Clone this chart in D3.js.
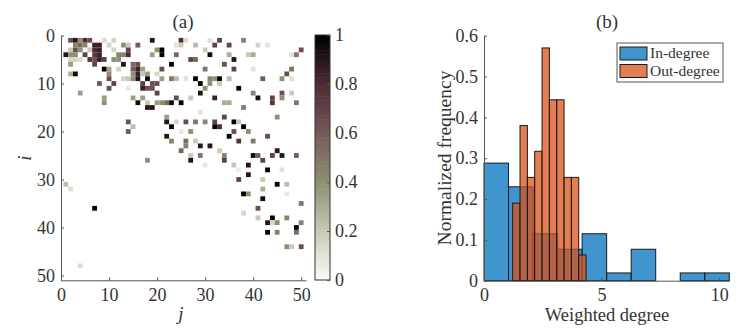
<!DOCTYPE html>
<html>
<head>
<meta charset="utf-8">
<script src="https://d3js.org/d3.v7.min.js"></script>
<style>
  body { margin: 0; background: #fff; }
  text { font-family: "Liberation Serif", serif; fill: #333; }
  .axis path, .axis line { stroke: #555; }
  .axis text { font-size: 18px; }
</style>
</head>
<body>
<svg id="chart" width="756" height="333"></svg>
<script>
// panel a, one line per row: row i, then [j, weight] pairs
var rowIndex = [1, 2, 3, 4, 5, 6, 7, 8, 9, 10, 11, 12, 13, 14, 15, 16, 17, 18, 19, 20, 21, 22, 23, 24, 25, 26, 27, 28, 29, 30, 31, 32, 33, 34, 35, 36, 37, 38, 39, 40, 41, 44, 48]
var rowCells = [
    [[2,.65],[3,.9],[4,.4],[5,.8],[6,.65],[9,.12],[11,.15],[19,.9],[25,.8],[26,.12],[31,.1],[33,.7],[38,.45]],
    [[3,.45],[4,.55],[5,.45],[7,.85],[8,.85],[10,.15],[13,.4],[14,.2],[16,.6],[24,.1],[25,.2],[28,.25],[32,.7],[35,.7],[41,.15],[43,.1]],
    [[2,.2],[3,.65],[4,.4],[6,.2],[7,.8],[8,.85],[11,.15],[14,.7],[20,.4],[21,1],[30,.2],[50,.65]],
    [[1,.9],[2,.4],[3,.4],[5,.7],[7,.75],[8,.85],[12,.45],[13,.45],[14,.8],[19,.35],[21,1],[24,.55],[31,.95],[35,.3],[39,.2],[40,.3],[48,.1],[49,.5]],
    [[2,.15],[3,.15],[4,.12],[6,.75],[7,.65],[8,.85],[9,.7],[11,.4],[12,.4],[27,.7],[28,.55],[36,.9]],
    [[2,.35],[7,.7],[13,.9],[15,.55],[16,.65],[23,1],[34,.65]],
    [[9,1],[10,.35],[12,.15],[15,.6],[16,.85],[17,.35],[21,.65],[30,.5],[36,.7],[40,.1],[48,.5]],
    [[2,.3],[3,.95],[10,.4],[15,.4],[16,.85],[17,.2],[18,.35],[20,.15],[47,.65]],
    [[10,.65],[13,.15],[14,.2],[15,.4],[16,.9],[18,.95],[21,.35],[23,.5],[24,.25],[26,.1],[28,1],[31,.45],[32,.4],[33,1],[35,.25],[42,.6],[46,.4],[48,.1]],
    [[8,.6],[11,.7],[17,.7],[19,.65],[20,.65],[29,1],[31,.4],[33,.2]],
    [[10,.65],[14,.08],[17,.85],[18,.65],[19,.65],[30,.4],[37,1]],
    [[4,.35],[20,.7],[29,.9],[40,.45],[46,.65],[48,.2]],
    [[9,.35],[15,.35],[17,.35],[24,.65],[27,.2],[32,.85],[41,.95],[44,.7],[46,.4]],
    [[9,.4],[16,.95],[18,.2],[20,.35],[21,.4],[22,.55],[23,.95],[25,1],[34,.3],[35,.3],[44,.75],[49,.5]],
    [[18,.9],[19,.9],[38,.45]],
    [[29,.1]],
    [[22,.35],[34,.7],[45,.4]],
    [[14,.65],[22,.9],[24,.15],[26,.65],[28,.5],[30,.45],[32,.7],[36,1],[37,.2]],
    [[15,.25],[23,1],[32,1],[33,.8],[38,1]],
    [[14,.6],[25,.08],[27,.4],[36,.65],[39,.4]],
    [[22,.9],[35,1],[43,.65]],
    [[23,.45],[26,.55],[28,.2],[37,.75],[40,.5]],
    [[26,.45],[29,.9],[31,.9]],
    [[25,.55],[33,.2],[45,.9]],
    [[27,.2],[29,.5],[34,.45],[40,.95],[41,.6],[44,.7],[46,.9],[49,.6]],
    [[18,.4],[27,.9],[34,.7],[42,.7]],
    [[30,.08],[36,.2],[39,.9]],
    [[37,.06],[43,1],[46,.1]],
    [[39,.9]],
    [[37,.7],[42,.2]],
    [[1,.25],[45,1],[47,.25]],
    [[2,.12],[42,.3]],
    [[38,1],[39,.4],[47,.07]],
    [[42,.95]],
    [[50,.5]],
    [[7,1],[41,.65]],
    [[38,.15]],
    [[41,.2],[44,1],[47,.45]],
    [[43,.9],[44,.15],[45,.4],[50,.45]],
    [[49,1]],
    [[43,1],[45,.45],[49,.55]],
    [[47,.4],[48,.2],[50,.65]],
    [[4,.12]]
]
var heatTicks = [0, 10, 20, 30, 40, 50]
var barTicks = [0, 0.2, 0.4, 0.6, 0.8, 1]
// sampled off the colorbar, bottom to top
var cmapStops = ["#fbfbf8", "#c9c9b8", "#8f8f72", "#75595a", "#4f2a33", "#000000"]

// panel b
var inHeights = [0.288, 0.23, 0.115, 0.077, 0.115, 0.019, 0.077, 0, 0.019, 0.019]
var inStart = 0, inWidth = 1.043
var outHeights = [0.19, 0.38, 0.253, 0.317, 0.57, 0.443, 0.443, 0.253, 0.253, 0.063]
var outStart = 1.22, outWidth = 0.312
var histXTicks = [0, 5, 10]
var histYTicks = [0, 0.1, 0.2, 0.3, 0.4, 0.5, 0.6]
var legendLabels = ["In-degree", "Out-degree"]
var histColors = ["#0072BD", "#D95319"]

var svg = d3.select("#chart")

//------ panel a ------
var x = d3.scaleLinear().domain([0, 51]).range([61, 306])
var y = d3.scaleLinear().domain([0, 51]).range([35.5, 280.3])
var color = d3.scaleLinear().domain(barTicks).range(cmapStops)

var cells = []
rowIndex.forEach((i, k) => {
    rowCells[k].forEach(c => cells.push({ i: i, j: c[0], w: c[1] }))
})

svg.append("g").selectAll("rect")
    .data(cells)
    .enter()
    .append("rect")
    .attr("x", d => x(d.j - 0.5))
    .attr("y", d => y(d.i - 0.5))
    .attr("width", x(1) - x(0))
    .attr("height", y(1) - y(0))
    .attr("fill", d => color(d.w))

svg.append("g").attr("class", "axis")
    .attr("transform", `translate(0,${y(51)})`)
    .call(d3.axisBottom(x).tickValues(heatTicks).tickFormat(d3.format("d")).tickSizeInner(-3).tickSizeOuter(0).tickPadding(8))
svg.append("g").attr("class", "axis")
    .attr("transform", `translate(${x(0)},0)`)
    .call(d3.axisLeft(y).tickValues(heatTicks).tickFormat(d3.format("d")).tickSizeInner(-3).tickSizeOuter(0).tickPadding(6))

svg.append("text").attr("x", 183).attr("y", 28).attr("text-anchor", "middle").attr("font-size", "19px").text("(a)")
svg.append("text").attr("x", 181).attr("y", 320).attr("text-anchor", "middle").attr("font-size", "19px").attr("font-style", "italic").text("j")
svg.append("text").attr("transform", "translate(31,158) rotate(-90)").attr("text-anchor", "middle").attr("font-size", "19px").attr("font-style", "italic").text("i")

// colorbar
var barY = d3.scaleLinear().domain([0, 1]).range([280, 35])
var barSteps = d3.range(64).map(k => k / 64)
svg.append("g").selectAll("rect")
    .data(barSteps)
    .enter()
    .append("rect")
    .attr("x", 315)
    .attr("width", 15)
    .attr("y", d => barY(d + 1 / 64))
    .attr("height", barY(0) - barY(1 / 64) + 0.5)
    .attr("fill", d => color(d + 0.5 / 64))
svg.append("rect").attr("x", 315).attr("y", 35).attr("width", 15).attr("height", 245)
    .attr("fill", "none").attr("stroke", "#333")
svg.append("g").attr("class", "axis")
    .attr("transform", "translate(330,0)")
    .call(d3.axisRight(barY).tickValues(barTicks).tickFormat(d3.format("~g")).tickSizeInner(-3).tickSizeOuter(0).tickPadding(5))
    .select(".domain").remove()

//------ panel b ------
var hx = d3.scaleLinear().domain([0, 10.43]).range([484, 729.3])
var hy = d3.scaleLinear().domain([0, 0.6]).range([280.7, 35.7])

var inBars = inHeights.map((h, k) => ({ x0: inStart + k * inWidth, x1: inStart + (k + 1) * inWidth, h: h }))
var outBars = outHeights.map((h, k) => ({ x0: outStart + k * outWidth, x1: outStart + (k + 1) * outWidth, h: h }))

;[inBars, outBars].forEach((bars, s) => {
    svg.append("g").selectAll("rect")
        .data(bars)
        .enter()
        .append("rect")
        .attr("x", d => hx(d.x0))
        .attr("y", d => hy(d.h))
        .attr("width", d => hx(d.x1) - hx(d.x0))
        .attr("height", d => hy(0) - hy(d.h))
        .attr("fill", histColors[s])
        .attr("fill-opacity", 0.75)
        .attr("stroke", "#1a1a1a")
        .attr("stroke-width", 1)
})

svg.append("g").attr("class", "axis")
    .attr("transform", `translate(0,${hy(0)})`)
    .call(d3.axisBottom(hx).tickValues(histXTicks).tickFormat(d3.format("d")).tickSizeInner(-3).tickSizeOuter(0).tickPadding(8))
svg.append("g").attr("class", "axis")
    .attr("transform", `translate(${hx(0)},0)`)
    .call(d3.axisLeft(hy).tickValues(histYTicks).tickFormat(d3.format("~g")).tickSizeInner(-3).tickSizeOuter(0).tickPadding(6))

svg.append("text").attr("x", 607).attr("y", 28).attr("text-anchor", "middle").attr("font-size", "19px").text("(b)")
svg.append("text").attr("x", 607).attr("y", 321).attr("text-anchor", "middle").attr("font-size", "18.5px").text("Weighted degree")
svg.append("text").attr("transform", "translate(451,158) rotate(-90)").attr("text-anchor", "middle").attr("font-size", "19.5px").text("Normalized frequency")

// legend
var legend = svg.append("g")
legend.append("rect").attr("x", 617).attr("y", 43).attr("width", 106).attr("height", 39)
    .attr("fill", "#fff").attr("stroke", "#555")
var rows = legend.selectAll("g")
    .data(legendLabels)
    .enter()
    .append("g")
    .attr("transform", (d, k) => `translate(620,${47 + k * 17.5})`)
rows.append("rect").attr("width", 27).attr("height", 13)
    .attr("fill", (d, k) => histColors[k]).attr("fill-opacity", 0.75).attr("stroke", "#1a1a1a")
rows.append("text").attr("x", 30).attr("y", 11).attr("font-size", "15.5px").text(d => d)
</script>
</body>
</html>
